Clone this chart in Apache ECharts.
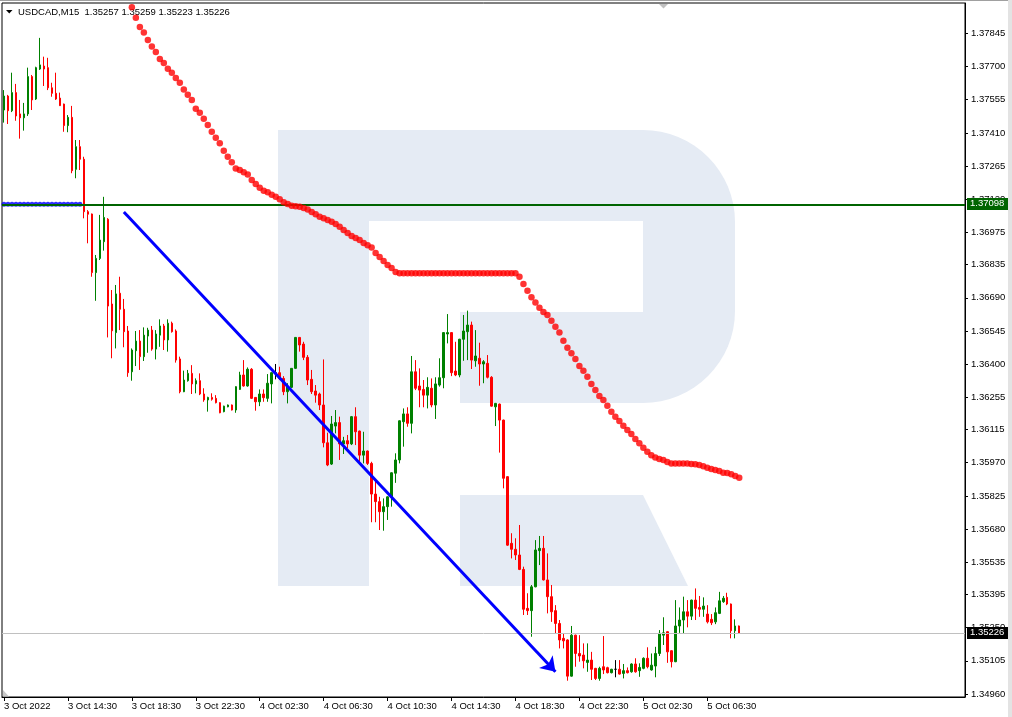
<!DOCTYPE html>
<html>
<head>
<meta charset="utf-8">
<script src="https://cdn.jsdelivr.net/npm/echarts@6/dist/echarts.min.js"></script>
<style>
html,body{margin:0;padding:0;background:#ffffff;}
#chart{width:1012px;height:717px;}
</style>
</head>
<body>
<div id="chart"></div>
<script>
// ---------------- data ----------------
const symbolName = 'USDCAD,M15';
const lastQuote = ['1.35257', '1.35259', '1.35223', '1.35226'];
const firstDateLabel = '3 Oct 2022';
const startTimeUTC = Date.UTC(2022, 9, 3, 10, 30); // first bar 3 Oct 10:30
const barMinutes = 15;
const slotCount = 241;  // bars that fit the window (incl. empty future space)
const labelEvery = 16;  // one time label every 4 hours

const open = [
1.37510,1.37571,1.37507,1.37586,1.37493,1.37476,1.37493,1.37656,1.37558,1.37689,
1.37702,1.37695,1.37607,1.37583,1.37562,1.37536,1.37442,1.37478,1.37251,1.37350,
1.37295,1.37066,1.37056,1.36800,1.36862,1.36935,1.37033,1.36663,1.36538,1.36710,
1.36640,1.36545,1.36367,1.36459,1.36501,1.36433,1.36523,1.36549,1.36466,1.36527,
1.36567,1.36506,1.36579,1.36545,1.36423,1.36280,1.36328,1.36360,1.36314,1.36328,
1.36270,1.36244,1.36255,1.36251,1.36232,1.36193,1.36214,1.36222,1.36200,1.36290,
1.36353,1.36305,1.36378,1.36255,1.36236,1.36270,1.36251,1.36314,1.36363,1.36363,
1.36338,1.36280,1.36299,1.36382,1.36517,1.36488,1.36430,1.36334,1.36283,1.36270,
1.36222,1.36057,1.35964,1.36130,1.36145,1.36052,1.36066,1.36052,1.36171,1.36108,
1.36003,1.36021,1.35967,1.35833,1.35800,1.35756,1.35778,1.35821,1.35924,1.35982,
1.36149,1.36183,1.36142,1.36367,1.36305,1.36290,1.36265,1.36295,1.36222,1.36309,
1.36341,1.36532,1.36538,1.36370,1.36353,1.36509,1.36542,1.36571,1.36415,1.36426,
1.36401,1.36404,1.36343,1.36214,1.36226,1.36156,1.35909,1.35618,1.35592,1.35567,
1.35504,1.35334,1.35324,1.35428,1.35586,1.35596,1.35458,1.35385,1.35324,1.35268,
1.35203,1.35196,1.35038,1.35217,1.35137,1.35130,1.35098,1.35108,1.35072,1.35028,
1.35079,1.35075,1.35053,1.35068,1.35068,1.35050,1.35062,1.35057,1.35091,1.35062,
1.35072,1.35116,1.35065,1.35082,1.35137,1.35217,1.35232,1.35149,1.35101,1.35257,
1.35283,1.35319,1.35300,1.35370,1.35338,1.35330,1.35309,1.35286,1.35275,1.35312,
1.35363,1.35382,1.35353,1.35236,1.35257];

const high = [
1.37597,1.37576,1.37673,1.37624,1.37554,1.37541,1.37695,1.37663,1.37699,1.37825,
1.37743,1.37738,1.37629,1.37673,1.37586,1.37538,1.37488,1.37528,1.37379,1.37379,
1.37306,1.37073,1.37058,1.36877,1.37052,1.37131,1.37038,1.36724,1.36746,1.36782,
1.36685,1.36567,1.36469,1.36545,1.36549,1.36561,1.36559,1.36567,1.36549,1.36596,
1.36576,1.36596,1.36586,1.36552,1.36433,1.36372,1.36375,1.36396,1.36338,1.36360,
1.36295,1.36258,1.36273,1.36265,1.36234,1.36219,1.36224,1.36224,1.36304,1.36367,
1.36418,1.36386,1.36383,1.36257,1.36290,1.36290,1.36357,1.36365,1.36401,1.36389,
1.36348,1.36317,1.36383,1.36519,1.36519,1.36498,1.36440,1.36375,1.36309,1.36276,
1.36421,1.36101,1.36174,1.36200,1.36171,1.36083,1.36091,1.36174,1.36212,1.36110,
1.36105,1.36023,1.35974,1.35894,1.35821,1.35814,1.35823,1.35928,1.36011,1.36155,
1.36207,1.36212,1.36436,1.36418,1.36382,1.36331,1.36343,1.36338,1.36343,1.36426,
1.36540,1.36619,1.36540,1.36498,1.36511,1.36615,1.36634,1.36586,1.36549,1.36494,
1.36418,1.36440,1.36348,1.36231,1.36228,1.36158,1.35911,1.35662,1.35640,1.35698,
1.35516,1.35400,1.35436,1.35632,1.35650,1.35650,1.35574,1.35436,1.35348,1.35283,
1.35225,1.35199,1.35257,1.35219,1.35217,1.35181,1.35181,1.35144,1.35074,1.35079,
1.35213,1.35079,1.35070,1.35108,1.35108,1.35091,1.35076,1.35094,1.35116,1.35094,
1.35120,1.35164,1.35137,1.35166,1.35239,1.35295,1.35234,1.35151,1.35370,1.35338,
1.35385,1.35370,1.35372,1.35421,1.35388,1.35382,1.35348,1.35309,1.35338,1.35406,
1.35388,1.35402,1.35355,1.35286,1.35259];

const low = [
1.37455,1.37449,1.37501,1.37463,1.37385,1.37420,1.37484,1.37510,1.37554,1.37685,
1.37615,1.37597,1.37568,1.37554,1.37528,1.37415,1.37413,1.37234,1.37212,1.37248,
1.37037,1.36928,1.36782,1.36677,1.36855,1.36896,1.36517,1.36426,1.36469,1.36549,
1.36474,1.36345,1.36328,1.36392,1.36375,1.36414,1.36450,1.36459,1.36421,1.36476,
1.36462,1.36455,1.36538,1.36407,1.36273,1.36278,1.36324,1.36270,1.36273,1.36265,
1.36236,1.36193,1.36241,1.36229,1.36186,1.36190,1.36212,1.36198,1.36188,1.36288,
1.36302,1.36302,1.36248,1.36197,1.36217,1.36236,1.36236,1.36229,1.36334,1.36331,
1.36265,1.36229,1.36296,1.36379,1.36455,1.36418,1.36309,1.36270,1.36232,1.36200,
1.36037,1.35955,1.35960,1.36098,1.35982,1.36008,1.36033,1.36047,1.36047,1.35974,
1.35967,1.35960,1.35710,1.35710,1.35676,1.35673,1.35720,1.35778,1.35882,1.35967,
1.36040,1.36127,1.36098,1.36287,1.36212,1.36212,1.36207,1.36212,1.36161,1.36302,
1.36295,1.36491,1.36348,1.36348,1.36343,1.36415,1.36418,1.36379,1.36389,1.36306,
1.36317,1.36338,1.36215,1.36130,1.36014,1.35858,1.35607,1.35552,1.35545,1.35501,
1.35305,1.35305,1.35210,1.35426,1.35523,1.35456,1.35312,1.35275,1.35225,1.35159,
1.35159,1.35018,1.35036,1.35079,1.35101,1.35072,1.35057,1.35021,1.35021,1.35018,
1.35047,1.35050,1.35050,1.35033,1.35045,1.35028,1.35050,1.35053,1.35053,1.35035,
1.35068,1.35072,1.35062,1.35033,1.35126,1.35174,1.35096,1.35076,1.35099,1.35227,
1.35225,1.35251,1.35283,1.35283,1.35297,1.35297,1.35268,1.35261,1.35265,1.35309,
1.35358,1.35348,1.35203,1.35203,1.35223];

const close = [
1.37571,1.37507,1.37586,1.37484,1.37476,1.37493,1.37656,1.37554,1.37695,1.37707,
1.37689,1.37607,1.37583,1.37558,1.37529,1.37442,1.37478,1.37245,1.37350,1.37295,
1.37066,1.37055,1.36800,1.36862,1.36942,1.37041,1.36654,1.36546,1.36707,1.36640,
1.36542,1.36363,1.36462,1.36501,1.36433,1.36527,1.36549,1.36466,1.36532,1.36567,
1.36506,1.36579,1.36542,1.36418,1.36280,1.36331,1.36360,1.36314,1.36328,1.36270,
1.36244,1.36255,1.36247,1.36232,1.36188,1.36217,1.36222,1.36200,1.36302,1.36353,
1.36305,1.36378,1.36251,1.36236,1.36270,1.36254,1.36317,1.36363,1.36363,1.36338,
1.36280,1.36302,1.36382,1.36517,1.36484,1.36430,1.36331,1.36280,1.36265,1.36222,
1.36057,1.35960,1.36139,1.36145,1.36052,1.36066,1.36052,1.36171,1.36105,1.36003,
1.36021,1.35967,1.35833,1.35800,1.35756,1.35778,1.35821,1.35926,1.35982,1.36153,
1.36183,1.36142,1.36367,1.36295,1.36287,1.36265,1.36299,1.36222,1.36314,1.36341,
1.36538,1.36538,1.36363,1.36353,1.36509,1.36545,1.36571,1.36418,1.36436,1.36401,
1.36411,1.36343,1.36217,1.36229,1.36156,1.35902,1.35610,1.35592,1.35567,1.35504,
1.35330,1.35324,1.35428,1.35589,1.35596,1.35458,1.35385,1.35319,1.35268,1.35196,
1.35192,1.35038,1.35217,1.35137,1.35126,1.35105,1.35108,1.35068,1.35028,1.35072,
1.35065,1.35053,1.35068,1.35068,1.35047,1.35062,1.35053,1.35091,1.35057,1.35076,
1.35116,1.35079,1.35086,1.35137,1.35225,1.35227,1.35144,1.35101,1.35257,1.35283,
1.35319,1.35300,1.35370,1.35334,1.35330,1.35344,1.35275,1.35271,1.35315,1.35367,
1.35378,1.35353,1.35236,1.35257,1.35226];

// moving average (red dots), starts at bar maStart
const maStart = 32;
const ma = [
1.37959,1.37913,1.37873,1.37848,1.37816,1.37787,1.37763,1.37733,1.37715,1.37690,
1.37673,1.37650,1.37629,1.37600,1.37577,1.37554,1.37516,1.37498,1.37472,1.37445,
1.37415,1.37389,1.37365,1.37332,1.37306,1.37282,1.37255,1.37248,1.37238,1.37228,
1.37204,1.37187,1.37171,1.37158,1.37151,1.37140,1.37131,1.37120,1.37107,1.37100,
1.37092,1.37090,1.37088,1.37082,1.37076,1.37065,1.37055,1.37044,1.37037,1.37030,
1.37022,1.37012,1.37000,1.36986,1.36973,1.36960,1.36951,1.36942,1.36929,1.36920,
1.36910,1.36886,1.36868,1.36851,1.36833,1.36820,1.36803,
1.36797,1.36797,1.36797,1.36797,1.36797,1.36797,1.36797,1.36797,1.36797,1.36797,
1.36797,1.36797,1.36797,1.36797,1.36797,1.36797,1.36797,1.36797,1.36797,1.36797,
1.36797,1.36797,1.36797,1.36797,1.36797,1.36797,1.36797,1.36797,1.36797,1.36797,
1.36782,1.36750,1.36721,1.36692,1.36669,1.36647,1.36628,1.36615,1.36590,1.36564,
1.36538,1.36503,1.36472,1.36448,1.36423,1.36392,1.36372,1.36345,1.36314,1.36287,
1.36261,1.36244,1.36219,1.36193,1.36171,1.36152,1.36131,1.36113,1.36095,1.36073,
1.36055,1.36035,1.36018,1.36003,1.35993,1.35986,1.35982,1.35973,1.35967,1.35967,
1.35967,1.35967,1.35966,1.35964,1.35963,1.35960,1.35955,1.35948,1.35942,1.35938,
1.35934,1.35926,1.35925,1.35920,1.35912,1.35904];

// blue dotted level on the first bars
const blueLevel = [
1.37098,1.37098,1.37098,1.37098,1.37098,1.37098,1.37098,1.37098,1.37098,1.37098,
1.37098,1.37098,1.37098,1.37098,1.37098,1.37098,1.37098,1.37098,1.37098,1.37098];

const greenLevel = 1.37098;
const bidLevel = 1.35226;
const trendStart = [30, 1.37065];
const trendEnd = [138, 1.35057];

const yTickValues = [1.34960,1.35105,1.35250,1.35395,1.35535,1.35680,1.35825,1.35970,
  1.36115,1.36255,1.36400,1.36545,1.36690,1.36835,1.36975,1.37120,1.37265,1.37410,
  1.37555,1.37700,1.37845];
const yMin = 1.349469, yMax = 1.379773;

// ---------------- build ----------------
const months = ['Jan','Feb','Mar','Apr','May','Jun','Jul','Aug','Sep','Oct','Nov','Dec'];
function pad(n){ return (n < 10 ? '0' : '') + n; }
const categories = [];
for (let k = 0; k < slotCount; k++) {
  const d = new Date(startTimeUTC + k * barMinutes * 60000);
  categories.push(d.getUTCDate() + ' ' + months[d.getUTCMonth()] + ' ' + pad(d.getUTCHours()) + ':' + pad(d.getUTCMinutes()));
}
const candleData = open.map((o, i) => [o, close[i], low[i], high[i]]);
const maData = ma.map((v, k) => [maStart + k, v]);
const blueData = blueLevel.map((v, i) => [i, v]);
const showLabel = (idx) => idx % labelEvery === 0 && idx < close.length;

const FONT = '"Liberation Sans", Arial, sans-serif';
const WM = '#e5ebf4';
const GREEN_LINE = '#006400';

const levelMarkLine = (value, lineColor, lineWidth) => ({
  silent: true, symbol: ['none', 'none'], animation: false, z: 5, precision: 5,
  lineStyle: { color: lineColor, width: lineWidth, type: 'solid' },
  label: { show: false },
  data: [{ yAxis: value }]
});

const option = {
  animation: false,
  backgroundColor: '#ffffff',
  textStyle: { fontFamily: FONT },
  grid: {
    left: 2, right: 47, top: 3, bottom: 20,
    containLabel: false, outerBoundsMode: 'none',
    show: true, borderColor: '#000', borderWidth: 1, backgroundColor: 'transparent'
  },
  xAxis: {
    type: 'category',
    data: categories,
    boundaryGap: true,
    axisLine: { show: true, lineStyle: { color: '#000', width: 1 } },
    axisTick: { show: true, alignWithLabel: true, length: 4, interval: showLabel, lineStyle: { color: '#000' } },
    axisLabel: {
      show: true, interval: showLabel, align: 'left', margin: 4,
      fontSize: 9.5, color: '#000', fontFamily: FONT,
      formatter: (v, i) => (i === 0 ? firstDateLabel : v)
    },
    splitLine: { show: false }
  },
  yAxis: {
    type: 'value',
    position: 'right',
    min: yMin, max: yMax,
    axisLine: { show: true, lineStyle: { color: '#000', width: 1 } },
    axisTick: { show: true, length: 3, customValues: yTickValues, lineStyle: { color: '#000' } },
    axisLabel: {
      show: true, customValues: yTickValues, margin: 6,
      fontSize: 9.5, color: '#000', fontFamily: FONT,
      formatter: (v) => Number(v).toFixed(5)
    },
    splitLine: { show: false }
  },
  graphic: [
    // watermark "R"
    { id: 'wm1', type: 'rect', z: -10, silent: true, shape: { x: 278, y: 130, width: 457, height: 273, r: [0, 92, 92, 0] }, style: { fill: WM } },
    { id: 'wm2', type: 'rect', z: -10, silent: true, shape: { x: 278, y: 400, width: 91, height: 186 }, style: { fill: WM } },
    { id: 'wm3', type: 'rect', z: -9, silent: true, shape: { x: 369, y: 221, width: 274, height: 91 }, style: { fill: '#ffffff' } },
    { id: 'wm4', type: 'rect', z: -9, silent: true, shape: { x: 369, y: 312, width: 91, height: 91 }, style: { fill: '#ffffff' } },
    { id: 'wm5', type: 'polygon', z: -10, silent: true, shape: { points: [[460, 495], [643, 495], [688, 586], [460, 586]] }, style: { fill: WM } },
    // window decorations
    { id: 'topline', type: 'line', silent: true, shape: { x1: 0, y1: 0.5, x2: 1012, y2: 0.5 }, style: { stroke: '#a0a0a0', lineWidth: 1 } },
    { id: 'rightstrip', type: 'rect', silent: true, shape: { x: 1008, y: 0, width: 4, height: 717 }, style: { fill: '#e3e3e3' } },
    { id: 'shift', type: 'polygon', silent: true, shape: { points: [[659, 4], [668, 4], [663.5, 8.5]] }, style: { fill: '#c0c0c0' } },
    { id: 'corner', type: 'polygon', silent: true, shape: { points: [[3, 690], [3, 696.5], [9, 696.5]] }, style: { fill: '#c8c8c8' } },
    // title
    { id: 'tri', type: 'polygon', silent: true, shape: { points: [[6, 10], [12.5, 10], [9.25, 13.5]] }, style: { fill: '#000' } },
    { id: 'title', type: 'text', silent: true, left: 18, top: 7,
      style: { text: symbolName + '  ' + lastQuote.join(' '), font: '9.5px ' + FONT, fill: '#000' } }
  ],
  series: [
    {
      name: 'level dots', type: 'scatter', data: blueData, z: 2,
      symbol: 'circle', symbolSize: 5, silent: true,
      itemStyle: { color: '#0000ff' },
      markLine: levelMarkLine(greenLevel, GREEN_LINE, 2)
    },
    {
      name: symbolName, type: 'candlestick', data: candleData, z: 3,
      barWidth: 2, silent: true,
      itemStyle: {
        color: '#008000', color0: '#ff0000',
        borderColor: '#008000', borderColor0: '#ff0000',
        borderColorDoji: '#000000', borderWidth: 1
      },
      markLine: levelMarkLine(bidLevel, '#c0c0c0', 1)
    },
    {
      name: 'MA', type: 'scatter', data: maData, z: 6,
      symbol: 'circle', symbolSize: 6.5, silent: true,
      itemStyle: { color: '#ff0000' }
    },
    {
      name: 'trend', type: 'line', data: [trendStart, trendEnd], z: 7,
      symbol: 'none', silent: true,
      lineStyle: { color: '#0000ff', width: 3, opacity: 0 },
      markLine: {
        silent: true, animation: false, z: 7, precision: 5,
        symbol: ['none', 'arrow'], symbolSize: 14,
        lineStyle: { color: '#0000ff', width: 3, type: 'solid' },
        label: { show: false },
        data: [[{ coord: trendStart }, { coord: trendEnd }]]
      }
    }
  ]
};

const chart = echarts.init(document.getElementById('chart'), null, { renderer: 'canvas' });
chart.setOption(option);

// price tags on the right axis, placed through the y-axis scale
function priceTag(id, value, bg) {
  const y = chart.convertToPixel({ yAxisIndex: 0 }, value);
  return [
    { id: id + 'Box', type: 'rect', silent: true, z: 100,
      shape: { x: 967, y: Math.round(y) - 6, width: 41, height: 12 },
      style: { fill: bg } },
    { id: id + 'Text', type: 'text', silent: true, z: 101, x: 970, y: Math.round(y) - 5.5,
      style: { text: value.toFixed(5), font: '9.5px ' + FONT, fill: '#ffffff' } }
  ];
}
chart.setOption({
  graphic: [].concat(priceTag('tagGreen', greenLevel, GREEN_LINE), priceTag('tagBid', bidLevel, '#000000'))
});
</script>
</body>
</html>
